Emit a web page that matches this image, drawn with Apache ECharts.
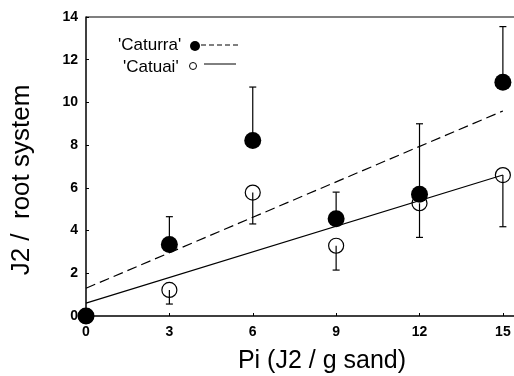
<!DOCTYPE html>
<html>
<head>
<meta charset="utf-8">
<script src="https://cdn.jsdelivr.net/npm/echarts@6/dist/echarts.min.js"></script>
<style>
  html, body { margin: 0; padding: 0; background: #fff; }
  #chart { width: 514px; height: 376px; }
</style>
</head>
<body>
<div id="chart"></div>
<script>
// Pi levels (J2 / g sand)
const piLevels = [0, 3, 6, 9, 12, 15];

// 'Caturra' means and upper error
const caturraMean = [0, 3.35, 8.22, 4.55, 5.7, 10.95];
const caturraErr = [0, 1.3, 2.5, 1.25, 3.3, 2.6];

// 'Catuai' means and lower error
const catuaiMean = [0, 1.22, 5.78, 3.29, 5.28, 6.6];
const catuaiErr = [0, 0.66, 1.47, 1.14, 1.6, 2.42];

// regression line end points
const caturraFit = [[0, 1.3], [15, 9.6]];
const catuaiFit = [[0, 0.6], [15, 6.6]];

const chart = echarts.init(document.getElementById('chart'));

// error bar with a cap, going up (dir = 1) or down (dir = -1)
function errBar(dir) {
  return function (params, api) {
    const x = api.value(0);
    const y = api.value(1);
    const e = api.value(2);
    if (!e) return;
    const p0 = api.coord([x, y]);
    const p1 = api.coord([x, y + dir * e]);
    const style = { stroke: '#000', lineWidth: 1.2 };
    return {
      type: 'group',
      children: [
        { type: 'line', shape: { x1: p0[0], y1: p0[1], x2: p1[0], y2: p1[1] }, style },
        { type: 'line', shape: { x1: p1[0] - 3.5, y1: p1[1], x2: p1[0] + 3.5, y2: p1[1] }, style }
      ]
    };
  };
}

const font = 'Liberation Sans, Arial, sans-serif';

chart.setOption({
  animation: false,
  backgroundColor: '#fff',
  grid: { left: 86, right: 0, top: 17, bottom: 60 },
  xAxis: {
    type: 'value',
    min: 0,
    max: 15.4,
    interval: 3,
    axisLine: { show: true, onZero: false, lineStyle: { color: '#000', width: 1.5 } },
    axisTick: { show: true, inside: true, length: 3, lineStyle: { color: '#000' } },
    axisLabel: { color: '#000', fontFamily: font, fontSize: 14, fontWeight: 'bold', margin: 9, showMaxLabel: false },
    splitLine: { show: false }
  },
  yAxis: {
    type: 'value',
    min: 0,
    max: 14,
    interval: 2,
    axisLine: { show: true, lineStyle: { color: '#000', width: 1.5 } },
    axisTick: { show: true, inside: true, length: 3, lineStyle: { color: '#000' } },
    axisLabel: { color: '#000', fontFamily: font, fontSize: 14, fontWeight: 'bold', margin: 8 },
    splitLine: { show: false }
  },
  graphic: [
    { type: 'line', shape: { x1: 86, y1: 17, x2: 514, y2: 17 }, style: { stroke: '#000', lineWidth: 1.2 } },
    {
      type: 'text', x: 22, y: 180, rotation: Math.PI / 2,
      style: { text: 'J2 /  root system', font: '26px ' + font, fill: '#000', align: 'center', verticalAlign: 'middle' }
    },
    {
      type: 'text', x: 322, y: 361,
      style: { text: 'Pi (J2 / g sand)', font: '25px ' + font, fill: '#000', align: 'center', verticalAlign: 'middle' }
    },
    { type: 'text', x: 118, y: 45, style: { text: "'Caturra'", font: '17px ' + font, fill: '#000', verticalAlign: 'middle' } },
    { type: 'circle', shape: { cx: 195, cy: 46, r: 5 }, style: { fill: '#000' } },
    { type: 'line', shape: { x1: 201, y1: 45, x2: 238, y2: 45 }, style: { stroke: '#000', lineWidth: 1, lineDash: [5, 3] } },
    { type: 'text', x: 123, y: 67, style: { text: "'Catuai'", font: '17px ' + font, fill: '#000', verticalAlign: 'middle' } },
    { type: 'circle', shape: { cx: 193, cy: 66, r: 3.5 }, style: { fill: '#fff', stroke: '#000', lineWidth: 1 } },
    { type: 'line', shape: { x1: 204, y1: 64, x2: 236, y2: 64 }, style: { stroke: '#000', lineWidth: 1 } }
  ],
  series: [
    {
      type: 'line',
      data: caturraFit,
      symbol: 'none',
      lineStyle: { color: '#000', width: 1.2, type: [10, 5] },
      z: 1
    },
    {
      type: 'line',
      data: catuaiFit,
      symbol: 'none',
      lineStyle: { color: '#000', width: 1.2 },
      z: 1
    },
    {
      type: 'custom',
      renderItem: errBar(1),
      data: piLevels.map((x, i) => [x, caturraMean[i], caturraErr[i]]),
      z: 2
    },
    {
      type: 'custom',
      renderItem: errBar(-1),
      data: piLevels.map((x, i) => [x, catuaiMean[i], catuaiErr[i]]),
      z: 2
    },
    {
      type: 'scatter',
      data: piLevels.map((x, i) => [x, catuaiMean[i]]),
      symbol: 'circle',
      symbolSize: 15,
      itemStyle: { color: 'rgba(255,255,255,0)', borderColor: '#000', borderWidth: 1.2, opacity: 1 },
      z: 3
    },
    {
      type: 'scatter',
      data: piLevels.map((x, i) => [x, caturraMean[i]]),
      symbol: 'circle',
      symbolSize: 17,
      itemStyle: { color: '#000', opacity: 1 },
      z: 4
    }
  ]
});
</script>
</body>
</html>
